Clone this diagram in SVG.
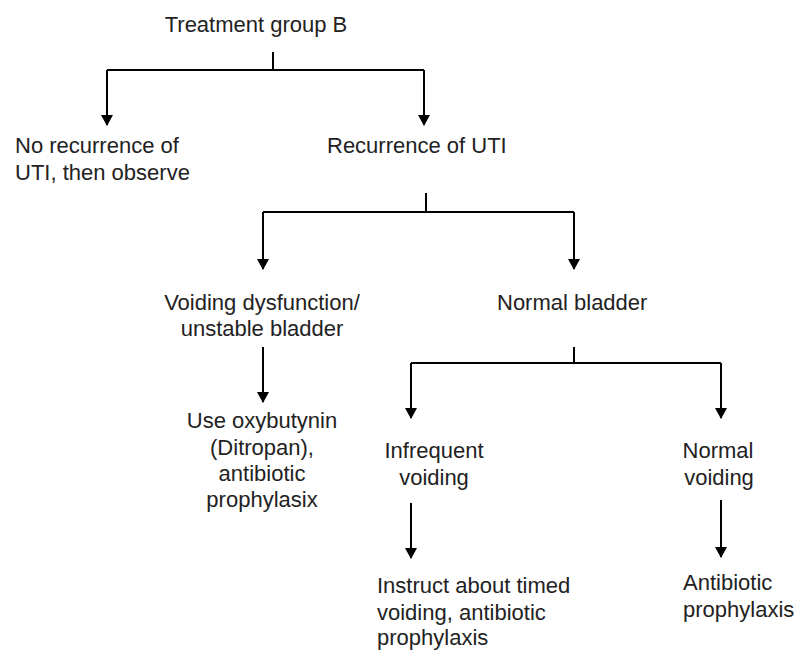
<svg xmlns="http://www.w3.org/2000/svg" width="803" height="650" viewBox="0 0 803 650">
<defs>
<marker id="arr" markerWidth="11" markerHeight="12" refX="10" refY="6" orient="auto" markerUnits="userSpaceOnUse" viewBox="0 0 11 12">
<path d="M0,0 L11,6 L0,12 Z" fill="#000"/>
</marker>
<style>
text{font-family:"Liberation Sans",Arial,sans-serif;font-size:22px;fill:#222}
.c{text-anchor:middle}
.ln{fill:none;stroke:#000;stroke-width:2}
.ar{marker-end:url(#arr)}
</style>
</defs>
<rect width="803" height="650" fill="#fff"/>
<g id="connectors">
<path class="ln" d="M273,52 V70 M107,70 H424"/>
<path class="ln ar" d="M107,70 V125"/>
<path class="ln ar" d="M424,70 V125"/>
<path class="ln" d="M426,193 V212 M263,212 H574"/>
<path class="ln ar" d="M263,212 V269"/>
<path class="ln ar" d="M574,212 V269"/>
<path class="ln ar" d="M263,347 V402"/>
<path class="ln" d="M574,347 V363 M411,363 H721"/>
<path class="ln ar" d="M411,363 V418"/>
<path class="ln ar" d="M721,363 V418"/>
<path class="ln ar" d="M411,503 V558"/>
<path class="ln ar" d="M721,500 V557"/>
</g>
<g id="n-root"><text class="c" x="256" y="32">Treatment group B</text></g>
<g id="n-norec"><text x="15" y="153">No recurrence of</text><text x="15" y="180">UTI, then observe</text></g>
<g id="n-rec"><text x="327" y="153">Recurrence of UTI</text></g>
<g id="n-voiddys"><text class="c" x="262" y="310">Voiding dysfunction/</text><text class="c" x="262" y="336">unstable bladder</text></g>
<g id="n-normbl"><text x="497" y="310">Normal bladder</text></g>
<g id="n-oxy"><text class="c" x="262" y="428">Use oxybutynin</text><text class="c" x="262" y="455">(Ditropan),</text><text class="c" x="262" y="481">antibiotic</text><text class="c" x="262" y="507">prophylasix</text></g>
<g id="n-infreq"><text class="c" x="434" y="458">Infrequent</text><text class="c" x="434" y="485">voiding</text></g>
<g id="n-normvoid"><text class="c" x="718" y="458">Normal</text><text class="c" x="719" y="485">voiding</text></g>
<g id="n-instruct"><text x="377" y="593">Instruct about timed</text><text x="377" y="620">voiding, antibiotic</text><text x="377" y="645">prophylaxis</text></g>
<g id="n-anti"><text x="683" y="590">Antibiotic</text><text x="683" y="617">prophylaxis</text></g>
</svg>
